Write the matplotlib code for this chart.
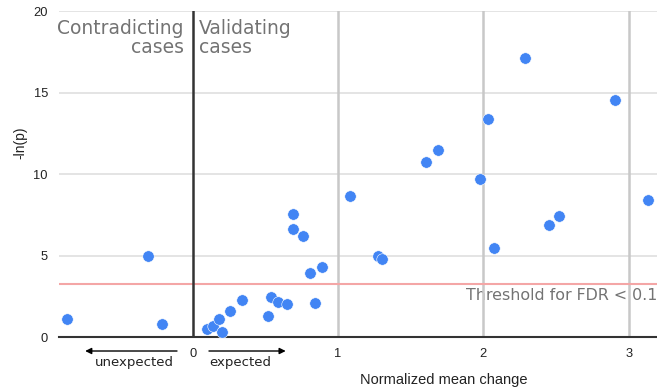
import matplotlib
matplotlib.use("Agg")
import matplotlib.pyplot as plt
import matplotlib.transforms as mtransforms

# normalized mean change vs -ln(p)
mean_change = [-0.865, -0.307, -0.211, 0.10, 0.142, 0.181, 0.199, 0.257, 0.341,
               0.520, 0.538, 0.589, 0.648, 0.692, 0.692, 0.761, 0.807, 0.844,
               0.888, 1.083, 1.273, 1.300, 1.607, 1.689, 1.974, 2.033, 2.074,
               2.284, 2.449, 2.524, 2.905, 3.134]
neg_log_p = [1.12, 4.95, 0.80, 0.49, 0.69, 1.10, 0.29, 1.62, 2.27,
             1.27, 2.48, 2.15, 2.01, 7.57, 6.63, 6.22, 3.93, 2.11,
             4.30, 8.66, 4.97, 4.79, 10.73, 11.48, 9.73, 13.39, 5.49,
             17.16, 6.85, 7.43, 14.57, 8.41]
fdr_threshold = 3.25
xticks = [0, 1, 2, 3]
yticks = [0, 5, 10, 15, 20]

fig = plt.figure(figsize=(6.57, 3.87), dpi=100)
ax = fig.add_axes([59 / 657, 1 - 337 / 387, 1 - 59 / 657, (337 - 11.3) / 387])
ax.set_xlim(-0.92, 3.195)
ax.set_ylim(0, 20)

for s in ["top", "right", "left", "bottom"]:
    ax.spines[s].set_visible(False)

for y in yticks[1:]:
    ax.axhline(y, color="#dcdcdc", lw=1.1, zorder=1)
for x in xticks[1:]:
    ax.axvline(x, color="#c8c8c8", lw=1.8, zorder=1)
ax.axhline(fdr_threshold, color="#f4a6a6", lw=1.5, zorder=1)
ax.axvline(0, color="#333333", lw=1.8, zorder=2)
ax.axhline(0, color="#333333", lw=1.5, zorder=2, clip_on=False)

ax.scatter(mean_change, neg_log_p, s=68, color="#4285f4", edgecolors="white",
           linewidths=0.4, zorder=3)

ax.set_xticks(xticks)
ax.set_yticks(yticks)
ax.tick_params(length=0, labelsize=9.3, pad=8, labelcolor="#222222")
for lab in ax.get_xticklabels() + ax.get_yticklabels():
    lab.set_family("Liberation Sans")
ax.tick_params(axis="y", pad=8)

gray = "#737373"
ax.text(-0.06, 19.5, "Contradicting\ncases", ha="right", va="top", fontsize=13.5,
        color=gray, linespacing=0.95)
ax.text(0.04, 19.5, "Validating\ncases", ha="left", va="top", fontsize=13.5,
        color=gray, linespacing=0.95)
ax.text(1.88, 2.55, "Threshold for FDR < 0.1", ha="left", va="center",
        fontsize=11.4, color=gray, clip_on=False, zorder=0.5)

trans = mtransforms.blended_transform_factory(ax.transData, ax.transAxes)
arrow = dict(arrowstyle="-|>", color="black", lw=1.0, mutation_scale=9,
             shrinkA=0, shrinkB=0)
ax.annotate("", xy=(-0.74, -0.043), xytext=(-0.108, -0.043), xycoords=trans,
            textcoords=trans, arrowprops=arrow, annotation_clip=False)
ax.annotate("", xy=(0.64, -0.043), xytext=(0.112, -0.043), xycoords=trans,
            textcoords=trans, arrowprops=arrow, annotation_clip=False)
ax.text(-0.40, -0.077, "unexpected", transform=trans, ha="center", va="center",
        fontsize=9.5, color="#222222")
ax.text(0.33, -0.077, "expected", transform=trans, ha="center", va="center",
        fontsize=9.5, color="#222222")

fig.text(444 / 657, 1 - 380 / 387, "Normalized mean change", ha="center",
         va="center", fontsize=10.5, family="Liberation Sans", color="#222222")
fig.text(20 / 657, 1 - 143 / 387, "-ln(p)", ha="center", va="center",
         rotation=90, fontsize=10, family="Liberation Sans", color="#222222")

fig.savefig("out.png", dpi=100)
